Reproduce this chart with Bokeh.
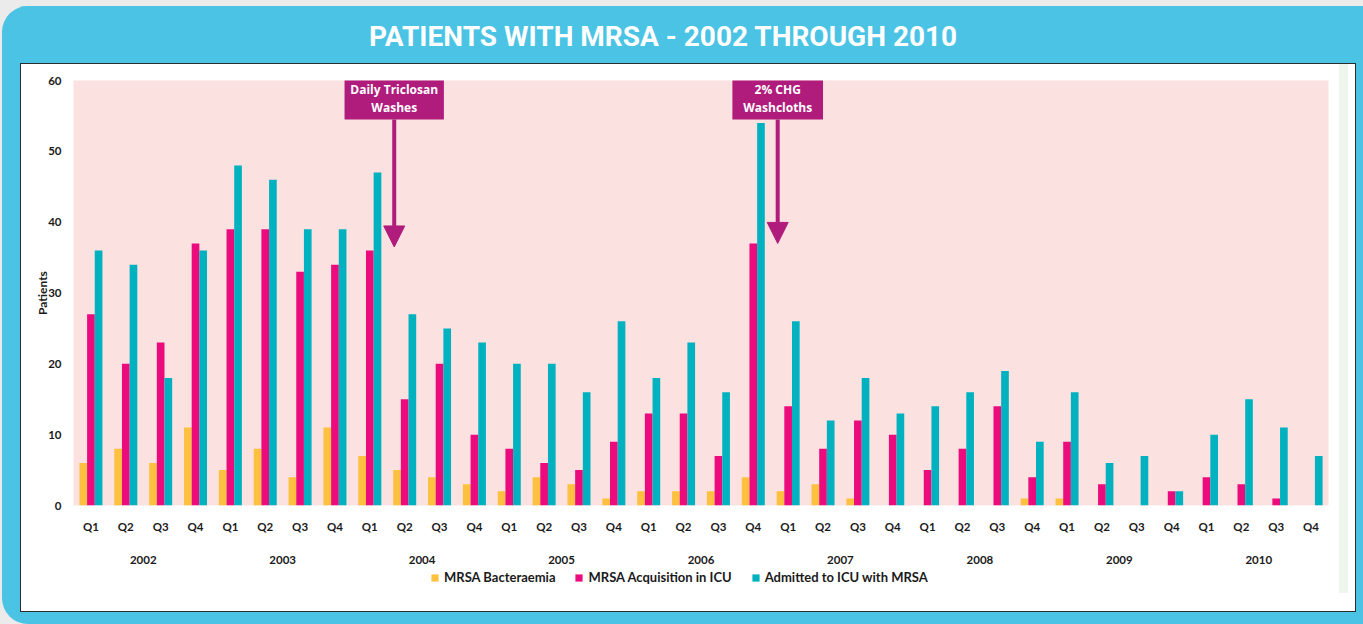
from bokeh.plotting import figure
from bokeh.layouts import column
from bokeh.models import (ColumnDataSource, Legend, LegendItem, LinearAxis,
                          Arrow, NormalHead, FixedTicker, Range1d, CustomJSTickFormatter)
from bokeh.transform import dodge
from bokeh.core.properties import value
from bokeh.embed import file_html
from bokeh.resources import INLINE

# ---------------- data ----------------
years = ["2002", "2003", "2004", "2005", "2006", "2007", "2008", "2009", "2010"]
quarters = ["Q1", "Q2", "Q3", "Q4"]
periods = [f"{y} {q}" for y in years for q in quarters]
period_quarter = [q for y in years for q in quarters]

bacteraemia = [6, 8, 6, 11, 5, 8, 4, 11, 7, 5, 4, 3, 2, 4, 3, 1, 2, 2, 2, 4,
               2, 3, 1, 0, 0, 0, 0, 1, 1, 0, 0, 0, 0, 0, 0, 0]
acquisition = [27, 20, 23, 37, 39, 39, 33, 34, 36, 15, 20, 10, 8, 6, 5, 9, 13, 13, 7, 37,
               14, 8, 12, 10, 5, 8, 14, 4, 9, 3, 0, 2, 4, 3, 1, 0]
admitted = [36, 34, 18, 36, 48, 46, 39, 39, 47, 27, 25, 23, 20, 20, 16, 26, 18, 23, 16, 54,
            26, 12, 18, 13, 14, 16, 19, 9, 16, 6, 7, 2, 10, 15, 11, 7]

series_names = ["MRSA Bacteraemia", "MRSA Acquisition in ICU", "Admitted to ICU with MRSA"]
series_colors = ["#fdc13f", "#ec0b7c", "#00b2c0"]

y_ticks = [0, 10, 20, 30, 40, 50, 60]

interventions = ["Daily Triclosan\nWashes", "2% CHG\nWashcloths"]
intervention_period = ["2004 Q2", "2007 Q1"]
intervention_box_width = [2.85, 2.6]
intervention_arrow_tip = [36.5, 37.0]

title_text = "PATIENTS WITH MRSA - 2002 THROUGH 2010"

# ---------------- styles ----------------
BLUE = "#4ac3e4"
PINK_BG = "#fbe1df"
MAGENTA = "#b01c7c"
AX_FONT = "Lato"
TXT = "#1a1a1a"
PW = 1336           # white panel width
PH, LH = 507, 42    # chart part / legend part heights of the white panel
TH = 57             # blue title band

n = len(periods)
src = ColumnDataSource(dict(xc=[i + 0.5 for i in range(n)], bac=bacteraemia,
                            acq=acquisition, adm=admitted))

p = figure(x_range=Range1d(0, n), y_range=Range1d(0, 60), width=PW, height=PH,
           output_backend="svg", toolbar_location=None,
           min_border_left=53, min_border_right=28, min_border_top=17, min_border_bottom=65)
p.background_fill_color = PINK_BG
p.border_fill_alpha = 0
p.outline_line_color = None
p.grid.grid_line_color = None

bar_w = 0.22
r1 = p.vbar(x=dodge("xc", -bar_w), top="bac", width=bar_w, source=src,
            fill_color=series_colors[0], line_color=None)
r2 = p.vbar(x=dodge("xc", 0), top="acq", width=bar_w, source=src,
            fill_color=series_colors[1], line_color=None)
r3 = p.vbar(x=dodge("xc", bar_w), top="adm", width=bar_w, source=src,
            fill_color=series_colors[2], line_color=None)


def style_axis(ax, standoff):
    ax.axis_line_color = None
    ax.major_tick_line_color = None
    ax.minor_tick_line_color = None
    ax.major_tick_out = 0
    ax.major_tick_in = 0
    ax.minor_tick_out = 0
    ax.minor_tick_in = 0
    ax.major_label_standoff = standoff
    ax.major_label_text_font = AX_FONT
    ax.major_label_text_font_style = "bold"
    ax.major_label_text_font_size = "11.5px"
    ax.major_label_text_color = TXT


# y axis
yax = p.yaxis[0]
yax.ticker = FixedTicker(ticks=y_ticks)
style_axis(yax, 12)
yax.axis_label = "Patients"
yax.axis_label_standoff = -5
yax.axis_label_text_font = AX_FONT
yax.axis_label_text_font_style = "bold"
yax.axis_label_text_font_size = "12px"
yax.axis_label_text_color = TXT

# x axis (quarters)
xax = p.xaxis[0]
xax.ticker = FixedTicker(ticks=[i + 0.5 for i in range(n)])
xax.formatter = CustomJSTickFormatter(args=dict(labels=period_quarter),
                                      code="return labels[Math.floor(tick)];")
style_axis(xax, 14)

# year axis
p.extra_x_ranges = {"years": Range1d(0, len(years))}
yr_ax = LinearAxis(x_range_name="years",
                   ticker=FixedTicker(ticks=[j + 0.5 for j in range(len(years))]),
                   formatter=CustomJSTickFormatter(args=dict(labels=years),
                                                   code="return labels[Math.floor(tick)];"))
style_axis(yr_ax, 20)
p.add_layout(yr_ax, "below")

# intervention annotations
ax_x = [periods.index(per) + 0.2 for per in intervention_period]
k = len(ax_x)
ann = ColumnDataSource(dict(
    x=ax_x,
    left=[x - w / 2 for x, w in zip(ax_x, intervention_box_width)],
    right=[x + w / 2 for x, w in zip(ax_x, intervention_box_width)],
    top=[60.5] * k, bottom=[54.5] * k,
    ty=[57.4] * k, text=interventions,
    y0=[54.5] * k, y1=intervention_arrow_tip))
p.quad(left="left", right="right", top="top", bottom="bottom", source=ann,
       fill_color=MAGENTA, line_color=None)
p.text(x="x", y="ty", text="text", source=ann, text_color="white",
       text_font=value("Open Sans"), text_font_style="bold", text_font_size="12px",
       text_align="center", text_baseline="middle", text_line_height=1.05)
p.add_layout(Arrow(end=NormalHead(size=21, fill_color=MAGENTA, line_color=MAGENTA),
                   x_start="x", y_start="y0", x_end="x", y_end="y1", source=ann,
                   line_color=MAGENTA, line_width=4))

# legend strip (bottom of the white panel)
lg = figure(x_range=Range1d(0, 1), y_range=Range1d(0, 1), width=PW, height=LH,
            output_backend="svg", toolbar_location=None, x_axis_location=None,
            y_axis_location=None, min_border=0)
lg.background_fill_alpha = 0
lg.border_fill_alpha = 0
lg.outline_line_color = None
lg.grid.grid_line_color = None
swatches = [lg.vbar(x=[-5], top=[-5], width=0.1, fill_color=c, line_color=None)
            for c in series_colors]
legend = Legend(items=[LegendItem(label=nm, renderers=[rr]) for nm, rr in zip(series_names, swatches)],
                orientation="horizontal", location=(357, 27), padding=0, margin=0,
                glyph_width=9, glyph_height=9, label_height=12, label_standoff=5,
                spacing=19, background_fill_alpha=0, border_line_color=None,
                label_text_font=AX_FONT, label_text_font_style="bold",
                label_text_font_size="13px", label_text_color=TXT)
lg.add_layout(legend, "center")

# title band
t = figure(x_range=Range1d(0, PW), y_range=Range1d(0, TH), width=PW, height=TH,
           output_backend="svg", toolbar_location=None, x_axis_location=None,
           y_axis_location=None, min_border=0)
t.background_fill_color = BLUE
t.border_fill_color = BLUE
t.outline_line_color = None
t.grid.grid_line_color = None
t.text(x=[643], y=[TH - 30], text=[title_text], text_color="white",
       text_font=value("Roboto"), text_font_style="bold",
       text_font_size="28px", text_align="center", text_baseline="middle")

panel = column(p, lg, spacing=0,
               styles={"outline": "1.5px solid #2b2b2b", "outline-offset": "-1px",
                       "background-color": "white",
                       "background-image": "linear-gradient(to right, transparent 1319px, "
                                           "#eef6ee 1319px, #eef6ee 1328px, transparent 1328px)",
                       "background-size": "100% 530px", "background-repeat": "no-repeat"})
blue = column(t, panel, spacing=0,
              styles={"background-color": BLUE, "padding": "0px 7px 12px 18px",
                      "border-top-left-radius": "26px", "border-bottom-left-radius": "26px"})
page = column(blue, styles={"background-color": "#ebebeb", "padding": "6px 0px 0px 2px"})

open("out.html", "w").write(file_html(page, INLINE))
